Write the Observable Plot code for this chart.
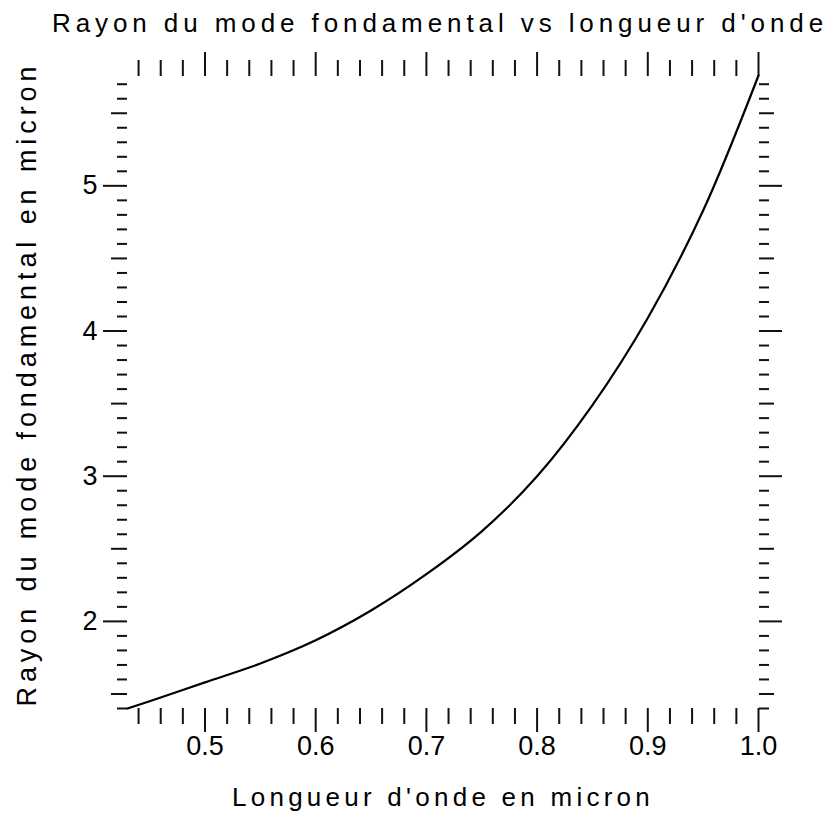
<!DOCTYPE html>
<html>
<head>
<meta charset="utf-8">
<script src="https://cdn.jsdelivr.net/npm/d3@7"></script>
<script src="https://cdn.jsdelivr.net/npm/@observablehq/plot@0.6"></script>
<style>
  body { margin: 0; background: #fff; }
  #title {
    position: relative; width: 834px; height: 44px;
    font-family: "Liberation Sans", Arial, sans-serif;
    font-size: 26px; line-height: 26px; color: #000;
  }
  #title span { position: absolute; left: 52px; top: 10px; white-space: nowrap; }
  #chart svg { display: block; }
</style>
</head>
<body>
<div id="title"><span>Rayon du mode fondamental vs longueur d'onde</span></div>
<div id="chart"></div>
<script>
// Wavelength (micron) and fundamental mode radius (micron)
const wavelength = [0.43, 0.45, 0.50, 0.55, 0.60, 0.65, 0.70, 0.75, 0.80, 0.85, 0.90, 0.95, 1.00];
const radius = [1.40, 1.45, 1.58, 1.71, 1.87, 2.075, 2.325, 2.62, 3.00, 3.49, 4.09, 4.83, 5.76];

// Labelled tick values
const xMajorTicks = [0.5, 0.6, 0.7, 0.8, 0.9, 1.0];
const yMajorTicks = [2, 3, 4, 5];
const yHalfTicks = [1.5, 2.5, 3.5, 4.5, 5.5];

const xLabel = "Longueur d'onde en micron";
const yLabel = "Rayon du mode fondamental en micron";

const points = wavelength.map((w, i) => ({w, r: radius[i]}));
const xDomain = [wavelength[0], wavelength[wavelength.length - 1]];
const yDomain = [radius[0], radius[radius.length - 1]];

// minor ticks: every 0.02 in x, every 0.1 in y
const near = (v, list) => list.some(t => Math.abs(t - v) < 1e-6);
const xMinorTicks = d3.range(44, 101, 2).map(v => v / 100).filter(v => !near(v, xMajorTicks));
const yMinorTicks = d3.range(14, 58).map(v => v / 10)
  .filter(v => !near(v, yMajorTicks) && !near(v, yHalfTicks));

const ink = "#111";
const blank = () => "";
const tickStyle = {stroke: ink, strokeWidth: 2, label: null};

const svg = Plot.plot({
  width: 834,
  height: 829 - 44,
  marginTop: 31,
  marginBottom: 121,
  marginLeft: 127,
  marginRight: 76,
  x: {domain: xDomain},
  y: {domain: yDomain},
  style: {fontFamily: "'Liberation Sans', Arial, sans-serif", fontSize: "27px", color: "#000", background: "#fff"},
  marks: [
    // bottom axis
    Plot.axisX(xMinorTicks, {anchor: "bottom", tickSize: 16, tickFormat: blank, ...tickStyle}),
    Plot.axisX(xMajorTicks, {anchor: "bottom", tickSize: 24, tickPadding: 3, tickFormat: d3.format(".1f"), ...tickStyle}),
    // top axis
    Plot.axisX(xMinorTicks, {anchor: "top", tickSize: 16, tickFormat: blank, ...tickStyle}),
    Plot.axisX(xMajorTicks, {anchor: "top", tickSize: 24, tickFormat: blank, ...tickStyle}),
    // left axis
    Plot.axisY(yMinorTicks, {anchor: "left", tickSize: 10, tickFormat: blank, ...tickStyle}),
    Plot.axisY(yHalfTicks, {anchor: "left", tickSize: 16, tickFormat: blank, ...tickStyle}),
    Plot.axisY(yMajorTicks, {anchor: "left", tickSize: 24, tickPadding: 6, tickFormat: d3.format("d"), ...tickStyle}),
    // right axis
    Plot.axisY(yMinorTicks, {anchor: "right", tickSize: 10, tickFormat: blank, ...tickStyle}),
    Plot.axisY(yHalfTicks, {anchor: "right", tickSize: 15, tickFormat: blank, ...tickStyle}),
    Plot.axisY(yMajorTicks, {anchor: "right", tickSize: 23, tickFormat: blank, ...tickStyle}),
    // curve
    Plot.line(points, {x: "w", y: "r", stroke: "#000", strokeWidth: 2.2, curve: "catmull-rom"}),
    // axis titles
    Plot.text([xLabel], {frameAnchor: "bottom", textAnchor: "middle", dy: 97, fontSize: 26, fill: "#000"}),
    Plot.text([yLabel], {frameAnchor: "left", textAnchor: "middle", dx: -100, dy: -8, rotate: -90, fontSize: 27, fill: "#000"})
  ]
});
document.getElementById("chart").appendChild(svg);

// spread a text's letters so that it covers the given length
function spread(node, target) {
  if (!node) return;
  const len = node.getComputedTextLength ? node.getComputedTextLength() : node.getBoundingClientRect().width;
  node.style.letterSpacing = ((target - len) / node.textContent.length) + "px";
}
const textNode = (s) => d3.select(svg).selectAll("text").filter(function() { return this.textContent === s; }).node();
spread(textNode(xLabel), 422);
spread(textNode(yLabel), 645);
spread(document.querySelector("#title span"), 776);
</script>
</body>
</html>
